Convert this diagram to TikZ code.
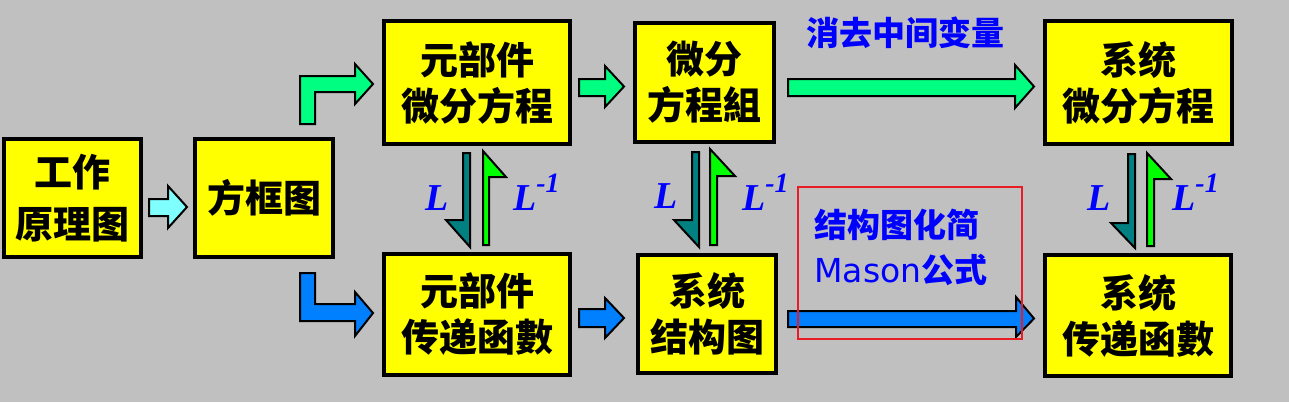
\documentclass[tikz,border=0pt]{standalone}
\usepackage{fontspec}
\setmainfont{Liberation Serif}
\newfontfamily\cjk{Noto Sans CJK SC}
\newfontfamily\latinsans{DejaVu Sans}
\usetikzlibrary{calc}

\definecolor{bggray}{RGB}{192,192,192}
\definecolor{boxyellow}{RGB}{255,255,0}
\definecolor{noteblue}{RGB}{0,0,255}
\definecolor{springgreen}{RGB}{0,255,128}
\definecolor{skyblue}{RGB}{0,128,255}
\definecolor{lightcyan}{RGB}{128,255,255}
\definecolor{darkteal}{RGB}{0,128,128}
\definecolor{brightgreen}{RGB}{0,255,0}
\definecolor{framered}{RGB}{232,28,36}

\newcommand{\invsup}{\raisebox{0.45em}{\fontsize{28}{28}\selectfont -1}}

\begin{document}
\begin{tikzpicture}[
    x=1pt,
    y=-1pt,
    box/.style={
        draw=black,
        line width=4pt,
        fill=boxyellow,
        align=center,
        inner sep=0pt,
        font=\cjk\bfseries\fontsize{38}{46}\selectfont
    },
    blockarrow/.style={
        draw=black,
        line width=2pt,
        line join=miter
    },
    note/.style={
        text=noteblue,
        inner sep=0pt,
        font=\cjk\bfseries\fontsize{33}{40}\selectfont
    },
    tlabel/.style={
        text=noteblue,
        inner sep=0pt,
        font=\bfseries\itshape\fontsize{38}{38}\selectfont
    }
]

\useasboundingbox (0,0) rectangle (1289,402);
\fill[bggray] (0,0) rectangle (1289,402);

% =====================================================
% Boxes
% =====================================================

\node[box, minimum width=137pt, minimum height=118pt,
      font=\cjk\bfseries\fontsize{38}{52}\selectfont]
      (work) at (72.5,198) {工作\\原理图};
\node[box, minimum width=138pt, minimum height=118pt]
      (blockdiag) at (264,198) {方框图};

\node[box, minimum width=186pt, minimum height=123pt]
      (elemde) at (477,82.5) {元部件\\微分方程};
\node[box, minimum width=139pt, minimum height=119pt]
      (desys) at (704.5,82.5) {微分\\方程組};
\node[box, minimum width=187pt, minimum height=123pt]
      (sysde) at (1138.5,82.5) {系统\\微分方程};

\node[box, minimum width=186pt, minimum height=121pt]
      (elemtf) at (477,314.5) {元部件\\传递函數};
\node[box, minimum width=138pt, minimum height=118pt]
      (sysstruct) at (707,314) {系统\\结构图};
\node[box, minimum width=186pt, minimum height=121pt]
      (systf) at (1138,315.5) {系统\\传递函數};

% =====================================================
% Horizontal block arrows
% =====================================================

% work -> blockdiag
\draw[blockarrow, fill=lightcyan]
  (149,199) -- (168,199) -- (168,186) -- (187,207) -- (168,228)
  -- (168,216) -- (149,216) -- cycle;

% elemde -> desys
\draw[blockarrow, fill=springgreen]
  (579,79) -- (605,79) -- (605,66) -- (624,86.5) -- (605,107)
  -- (605,96) -- (579,96) -- cycle;

% elemtf -> sysstruct
\draw[blockarrow, fill=skyblue]
  (579,309) -- (605,309) -- (605,298) -- (624,318) -- (605,338)
  -- (605,327) -- (579,327) -- cycle;

% desys -> sysde
\draw[blockarrow, fill=springgreen]
  (788,79) -- (1015,79) -- (1015,65) -- (1034,86.5) -- (1015,108)
  -- (1015,96) -- (788,96) -- cycle;

% sysstruct -> systf
\draw[blockarrow, fill=skyblue]
  (788,311) -- (1016,311) -- (1016,297) -- (1034,318.5) -- (1016,337)
  -- (1016,327) -- (788,327) -- cycle;

% =====================================================
% Bent arrows from blockdiag
% =====================================================

\draw[blockarrow, fill=springgreen]
  (300,124) -- (300,76) -- (355,76) -- (355,64) -- (373,84)
  -- (355,104) -- (355,92) -- (315,92) -- (315,124) -- cycle;

\draw[blockarrow, fill=skyblue]
  (300,273) -- (315,273) -- (315,304) -- (355,304) -- (355,292)
  -- (373,313) -- (355,336) -- (355,321) -- (300,321) -- cycle;

% =====================================================
% Transform arrows L and L^{-1}
% =====================================================

\draw[blockarrow, fill=darkteal]
  (463,153) -- (470,153) -- (470,247) -- (446,220) -- (463,220) -- cycle;
\draw[blockarrow, fill=brightgreen]
  (483,245) -- (483,151) -- (506,177) -- (489,177) -- (489,245) -- cycle;

\draw[blockarrow, fill=darkteal]
  (692,152) -- (699,152) -- (699,247) -- (674,220) -- (692,220) -- cycle;
\draw[blockarrow, fill=brightgreen]
  (710,245) -- (710,149) -- (735,176) -- (717,176) -- (717,245) -- cycle;

\draw[blockarrow, fill=darkteal]
  (1128,154) -- (1135,154) -- (1135,248) -- (1111,223) -- (1128,223) -- cycle;
\draw[blockarrow, fill=brightgreen]
  (1147,246) -- (1147,153) -- (1171,179) -- (1154,179) -- (1154,246) -- cycle;

\node[tlabel, anchor=base] (L1) at (437,210) {L};
\node[tlabel, anchor=base west] (Linv1) at (513,210) {L\invsup};

\node[tlabel, anchor=base] (L2) at (666,208) {L};
\node[tlabel, anchor=base west] (Linv2) at (742,210) {L\invsup};

\node[tlabel, anchor=base] (L3) at (1099,210) {L};
\node[tlabel, anchor=base west] (Linv3) at (1172,210) {L\invsup};

% =====================================================
% Notes
% =====================================================

\node[note] (elim) at (905,33) {消去中间变量};
\node[note] (simplify) at (897,225) {结构图化简};
\node[note] (mason) at (901,270) {{\latinsans\mdseries Mason}公式};

\draw[framered, line width=1.5pt] (798,187) rectangle (1022,339);

\end{tikzpicture}
\end{document}
